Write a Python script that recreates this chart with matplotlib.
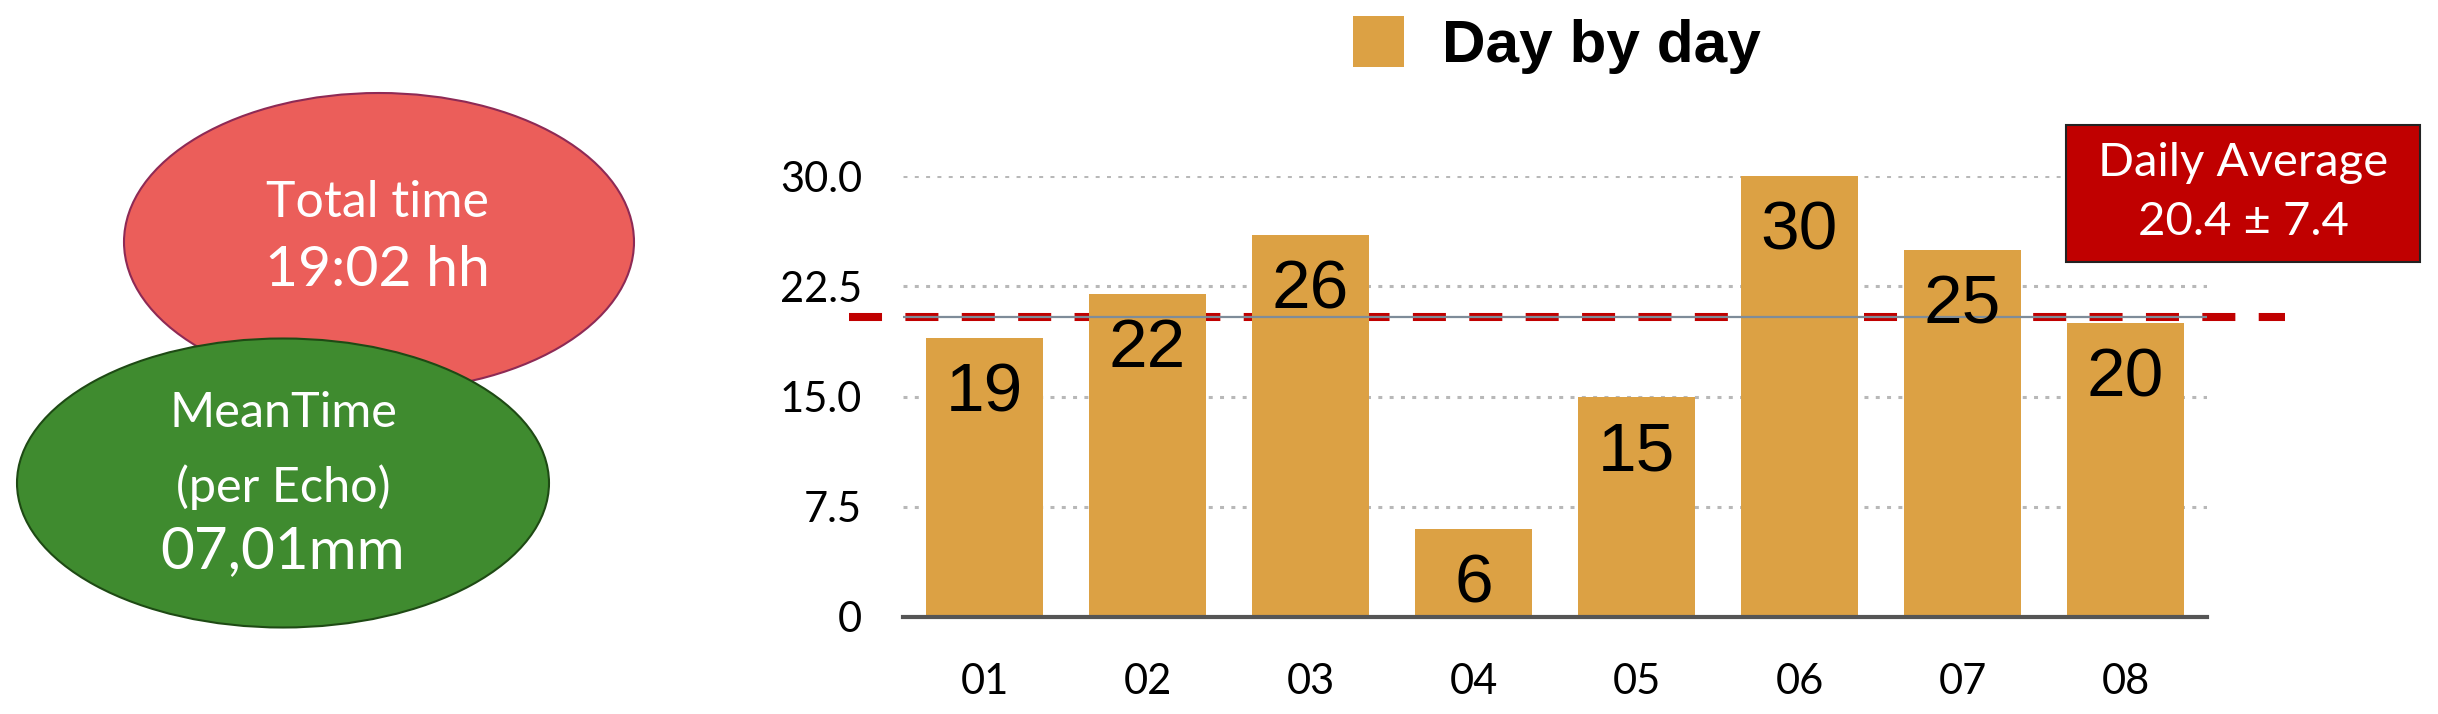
import matplotlib.pyplot as plt
from matplotlib.patches import Ellipse, Rectangle

# data
days = ['01', '02', '03', '04', '05', '06', '07', '08']
minutes = [19, 22, 26, 6, 15, 30, 25, 20]
y_ticks = [0, 7.5, 15, 22.5, 30]
y_tick_labels = ['0', '7.5', '15.0', '22.5', '30.0']
daily_avg = 20.4
daily_sd = 7.4
total_label = 'Total time'
total_time = '19:02 hh'
mean_label = ['MeanTime', '(per Echo)']
mean_time = '07,01mm'

W, H = 2438, 714
fig = plt.figure(figsize=(W / 100, H / 100), dpi=100)

bar_col = '#DCA144'
red = '#C00000'

# main bar chart
ax = fig.add_axes([903 / W, 1 - 617 / H, (2207 - 903) / W, (617 - 176) / H])
ax.patch.set_visible(False)
x = list(range(len(days)))
ax.bar(x, minutes, width=0.72, color=bar_col, zorder=2, label='Day by day')
ax.set_xlim(-0.5, len(days) - 0.5)
ax.set_ylim(0, 30)

ax.set_axisbelow(True)
ax.yaxis.grid(True, linestyle=(0, (1.3, 2.4)), linewidth=2.2, color='#B8B8B8')
for s in ['top', 'right', 'left']:
    ax.spines[s].set_visible(False)
ax.spines['bottom'].set_color('#555555')
ax.spines['bottom'].set_linewidth(3)
ax.spines['bottom'].set_zorder(3)

ax.set_xticks(x, days)
ax.set_yticks(y_ticks, y_tick_labels)
ax.tick_params(axis='both', length=0, labelsize=30)
ax.tick_params(axis='y', pad=29.5)
ax.tick_params(axis='x', pad=33)
for t in ax.get_xticklabels() + ax.get_yticklabels():
    t.set_family('Lato')

# average line: red dashes below the bars, thin gray line over them
ax.hlines(daily_avg, -0.83, 7.98, colors=red, linewidth=5.8,
          linestyles=(0, (4.1, 2.9)), zorder=1.5, clip_on=False)
ax.axhline(daily_avg, color='#7E8C99', linewidth=1.6, zorder=3)

for i, v in enumerate(minutes):
    ax.annotate(str(v), (i, v), xytext=(0, -53), textcoords='offset points',
                ha='center', va='baseline', fontsize=50,
                family='Liberation Sans', zorder=4)

ax.legend(loc='center', bbox_to_anchor=(1557 / W, 1 - 45 / H),
          bbox_transform=fig.transFigure, frameon=False,
          prop={'family': 'Liberation Sans', 'weight': 'bold', 'size': 43.5},
          handlelength=0.83, handleheight=0.92, handletextpad=0.63,
          borderpad=0, borderaxespad=0)

# overlay in pixel units for the bubbles and the average box
over = fig.add_axes([0, 0, 1, 1], zorder=5)
over.set_xlim(0, W)
over.set_ylim(H, 0)
over.axis('off')

over.add_patch(Ellipse((379, 242), 510, 298, facecolor='#EB5E5A',
                       edgecolor='#8E2A55', linewidth=1.5))
over.text(377, 203, total_label, ha='center', va='center', color='white',
          fontsize=36, family='Lato')
over.text(377, 270, total_time, ha='center', va='center', color='white',
          fontsize=41, family='Lato')

over.add_patch(Ellipse((283, 483), 532, 289, facecolor='#3F8B2F',
                       edgecolor='#1E4A14', linewidth=1.5))
over.text(283, 413, mean_label[0], ha='center', va='center', color='white',
          fontsize=35, family='Lato')
over.text(283, 487, mean_label[1], ha='center', va='center', color='white',
          fontsize=35, family='Lato')
over.text(283, 552, mean_time, ha='center', va='center', color='white',
          fontsize=42, family='Lato')

over.add_patch(Rectangle((2066, 125), 354, 137, facecolor=red,
                         edgecolor='#222222', linewidth=1.5))
over.text(2243, 163, 'Daily Average', ha='center', va='center',
          color='white', fontsize=34, family='Lato')
over.text(2243, 222, f'{daily_avg} \u00b1 {daily_sd}', ha='center',
          va='center', color='white', fontsize=34, family='Lato')

fig.savefig('out.png', dpi=100)
